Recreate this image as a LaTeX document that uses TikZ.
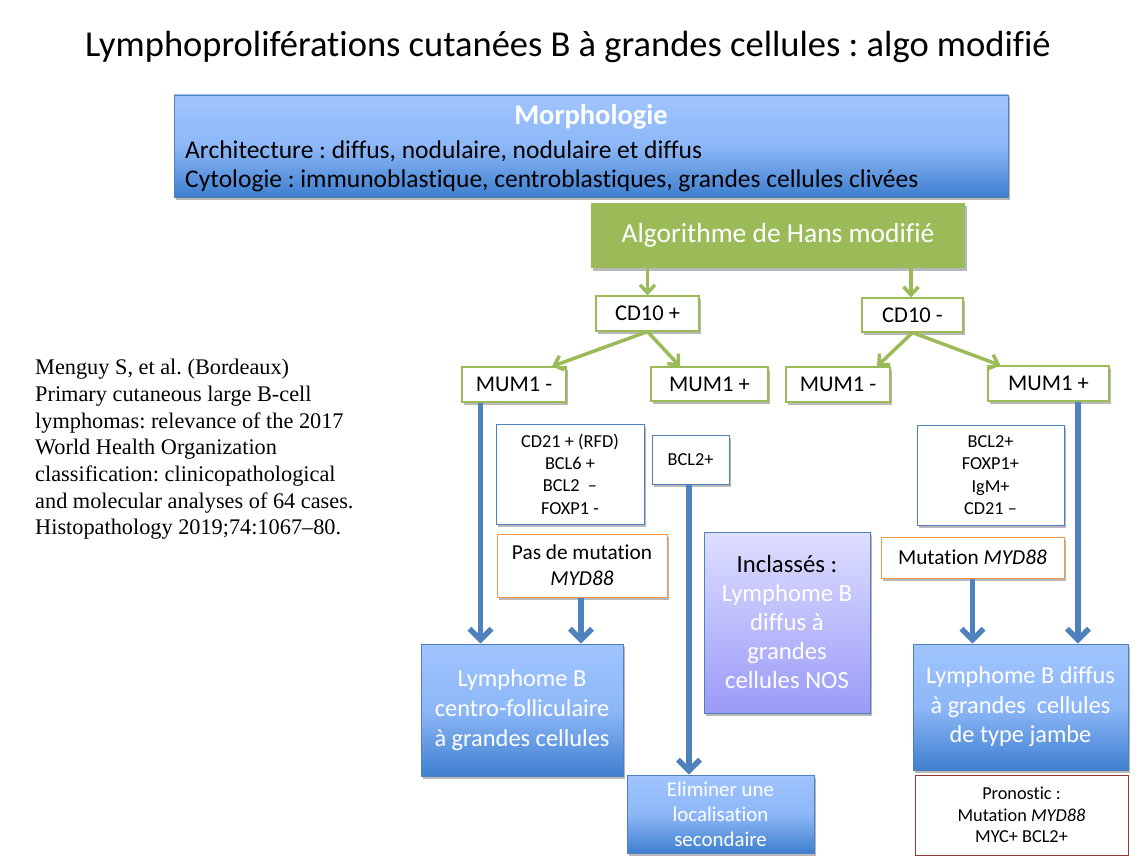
\documentclass[tikz,border=0pt]{standalone}
\usepackage{fontspec}
\setmainfont{Carlito}[Ligatures=NoCommon]
\newfontfamily\citefont{Liberation Serif}
\usetikzlibrary{arrows.meta,shadows}
\definecolor{gtop}{HTML}{A0C4FF}
\definecolor{gmid}{HTML}{8DB7F7}
\definecolor{gbot}{HTML}{3E7FCF}
\definecolor{bord}{HTML}{4F81BD}
\definecolor{grn}{HTML}{9BBB59}
\definecolor{orng}{HTML}{F79646}
\definecolor{ptop}{HTML}{DEDEFF}
\definecolor{pbot}{HTML}{9A9AF8}
\definecolor{dred}{HTML}{953735}
\definecolor{arrblue}{HTML}{4F81BD}
\frenchspacing
\begin{document}
\begin{tikzpicture}[x=1pt,y=-1pt,
  shad/.style={drop shadow={shadow xshift=2pt,shadow yshift=-2.5pt,opacity=0.28,fill=black}},
  gradbox/.style={draw=bord, line width=0.8pt, top color=gtop, bottom color=gbot, middle color=gmid, text=white, align=center, inner sep=0pt, shad},
  greenbox/.style={draw=grn, line width=1.2pt, fill=white, inner sep=0pt, shad, font=\fontsize{22.5}{26}\selectfont},
  bluebox/.style={draw=bord, line width=1pt, fill=white, inner sep=0pt, align=center, shad, font=\fontsize{18.3}{22.3}\selectfont},
  orangebox/.style={draw=orng, line width=1pt, fill=white, inner sep=0pt, align=center, shad, font=\fontsize{21.3}{26}\selectfont},
  purplebox/.style={draw=bord, line width=0.8pt, top color=ptop, bottom color=pbot, inner sep=0pt, align=center, shad, font=\fontsize{24.7}{29}\selectfont},
  redbox/.style={draw=dred, line width=1pt, fill=white, inner sep=0pt, align=center, font=\fontsize{18.3}{21.5}\selectfont},
  garr/.style={draw=grn, line width=3.5pt, -{Straight Barb[length=8pt,width=15pt]}},
  barr/.style={draw=arrblue, line width=5.5pt, -{Straight Barb[length=11pt,width=22pt]}}
]
\useasboundingbox (0,0) rectangle (1138,856);

\node[inner sep=0pt, font=\fontsize{36.5}{40}\selectfont] (title) at (568,47) {Lymphoproliférations cutanées B à grandes cellules : algo modifié};

% Morphologie
\node[gradbox, minimum width=834pt, minimum height=102pt] (morph) at (591,146) {};
\node[inner sep=0pt, text=white, font=\fontsize{28.5}{32}\bfseries] (morphT) at (591,117) {Morphologie};
\node[inner sep=0pt, anchor=west, align=left, font=\fontsize{25.5}{29}\selectfont] (morphL) at (185,166) {Architecture : diffus, nodulaire, nodulaire et diffus\\Cytologie : immunoblastique, centroblastiques, grandes cellules clivées};

% Algorithme
\node[fill=grn, inner sep=0pt, text=white, minimum width=374pt, minimum height=65pt, shad, font=\fontsize{27.5}{32}\selectfont] (algo) at (778,235.5) {\raisebox{-2pt}{Algorithme de Hans modifié}};

\node[greenbox, minimum width=103pt, minimum height=35pt] (cd10p) at (647.5,313.5) {CD10 +};
\node[greenbox, minimum width=101pt, minimum height=34pt] (cd10m) at (912.5,315) {CD10 -};
\node[greenbox, minimum width=104pt, minimum height=35pt] (mum1a) at (514,384.5) {MUM1 -};
\node[greenbox, minimum width=117pt, minimum height=34pt] (mum1b) at (709.5,384) {MUM1 +};
\node[greenbox, minimum width=104pt, minimum height=35pt] (mum1c) at (838,384.5) {MUM1 -};
\node[greenbox, minimum width=121pt, minimum height=35pt] (mum1d) at (1048.5,383.5) {MUM1 +};

\node[bluebox, minimum width=148pt, minimum height=100pt] (cd21) at (570,474) {CD21 + (RFD)\\BCL6 +\\BCL2 \ –\\FOXP1 -};
\node[bluebox, minimum width=77pt, minimum height=49pt] (bcl2) at (690.5,459.5) {BCL2+};
\node[bluebox, minimum width=147pt, minimum height=100pt] (rbox) at (990.5,475) {BCL2+\\FOXP1+\\IgM+\\CD21 –};

\node[orangebox, minimum width=170pt, minimum height=63pt] (pas) at (582,565.5) {Pas de mutation\\\textit{MYD88}};
\node[orangebox, minimum width=183pt, minimum height=41pt] (mut) at (972.5,557.5) {Mutation \textit{MYD88}};

\node[purplebox, minimum width=166pt, minimum height=181pt] (incl) at (787,622.5) {Inclassés :\\\textcolor{white}{Lymphome B}\\\textcolor{white}{diffus à}\\\textcolor{white}{grandes}\\\textcolor{white}{cellules NOS}};

\node[gradbox, minimum width=202pt, minimum height=132pt, font=\fontsize{24.4}{30}\selectfont] (centro) at (522,710) {Lymphome B\\centro-folliculaire\\à grandes cellules};
\node[gradbox, minimum width=187pt, minimum height=78pt, font=\fontsize{20.9}{25}\selectfont] (elim) at (720.5,814) {Eliminer une\\localisation\\secondaire};
\node[gradbox, minimum width=215pt, minimum height=126pt, font=\fontsize{24.3}{29.5}\selectfont] (jambe) at (1020.5,707) {Lymphome B diffus\\à grandes \ cellules\\de type jambe};
\node[redbox, minimum width=213pt, minimum height=80pt] (prono) at (1021.5,815) {Pronostic :\\Mutation \textit{MYD88}\\MYC+ BCL2+};

\node[inner sep=0pt, anchor=north west, align=left, font=\citefont\fontsize{22.3}{26.7}\selectfont] (cite) at (35,359) {Menguy S, et al. (Bordeaux)\\Primary cutaneous large B-cell\\lymphomas: relevance of the 2017\\World Health Organization\\classification: clinicopathological\\and molecular analyses of 64 cases.\\Histopathology 2019;74:1067–80.};

% green arrows
\draw[garr] (cd10p.north |- algo.south) -- (cd10p.north);
\draw[garr] ([xshift=-1.5pt]cd10m.north |- algo.south) -- ([xshift=-1.5pt]cd10m.north);
\draw[garr] (cd10p.south) -- ([xshift=38pt]mum1a.north);
\draw[garr] (cd10p.south) -- ([xshift=-29.5pt]mum1b.north);
\draw[garr] (cd10m.south) -- ([xshift=39pt]mum1c.north);
\draw[garr] (cd10m.south) -- ([xshift=-48pt]mum1d.north);

% blue arrows
\draw[barr] ([xshift=-33.5pt]mum1a.south) -- ([xshift=-33.5pt]mum1a.south |- centro.north);
\draw[barr] ([xshift=-1pt]pas.south) -- ([xshift=-1pt]pas.south |- centro.north);
\draw[barr] ([xshift=-1.5pt]bcl2.south) -- ([xshift=-1.5pt]bcl2.south |- elim.north);
\draw[barr] (mut.south) -- (mut.south |- jambe.north);
\draw[barr] ([xshift=29.5pt]mum1d.south) -- ([xshift=29.5pt]mum1d.south |- jambe.north);
\end{tikzpicture}
\end{document}
